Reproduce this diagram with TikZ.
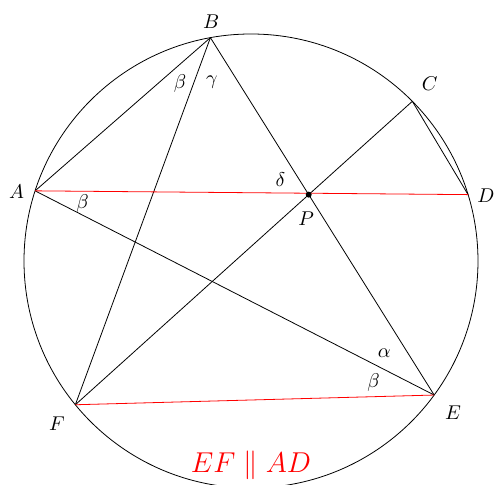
\documentclass[tikz,border=0pt]{standalone}
\usepackage{xcolor}
\usepackage{amsmath}
\usepackage{tikz}

\begin{document}
\begin{tikzpicture}
    \useasboundingbox (-4.423,-3.947) rectangle (4.282,4.599);

    % Circle
    \coordinate (O) at (0,0);
    \draw (O) circle (4);

    % Points on the circle
    \coordinate (A) at (162:4);
    \coordinate (B) at (100.3:4);
    \coordinate (C) at (44.7:4);
    \coordinate (D) at (17:4);
    \coordinate (E) at (-36.2:4);
    \coordinate (F) at (219.3:4);

    % Intersection point
    \coordinate (P) at (intersection of B--E and C--F);

    % Chords
    \draw (A) -- (B);
    \draw (B) -- (F);
    \draw (B) -- (E);
    \draw (A) -- (E);
    \draw (C) -- (F);
    \draw (C) -- (D);

    % Parallel chords
    \draw[red] (A) -- (D);
    \draw[red] (F) -- (E);

    % Point P
    \fill (P) circle (1.5pt);

    % Point labels
    \node (lA) at (-4.13,1.22) {$A$};
    \node (lB) at (-0.70,4.22) {$B$};
    \node (lC) at (3.15,3.12) {$C$};
    \node (lD) at (4.14,1.145) {$D$};
    \node (lE) at (3.56,-2.68) {$E$};
    \node (lF) at (-3.42,-2.86) {$F$};
    \node (lP) at (0.97,0.75) {$P$};

    % Angle labels
    \node (bA) at (-2.97,1.02) {$\beta$};
    \node (bB) at (-1.25,3.13) {$\beta$};
    \node (gB) at (-0.69,3.16) {$\gamma$};
    \node (dP) at (0.52,1.43) {$\delta$};
    \node (aE) at (2.35,-1.62) {$\alpha$};
    \node (bE) at (2.16,-2.14) {$\beta$};

    % Caption
    \node[red] (note) at (0,-3.6) {\Large $EF \parallel AD$};
\end{tikzpicture}
\end{document}
